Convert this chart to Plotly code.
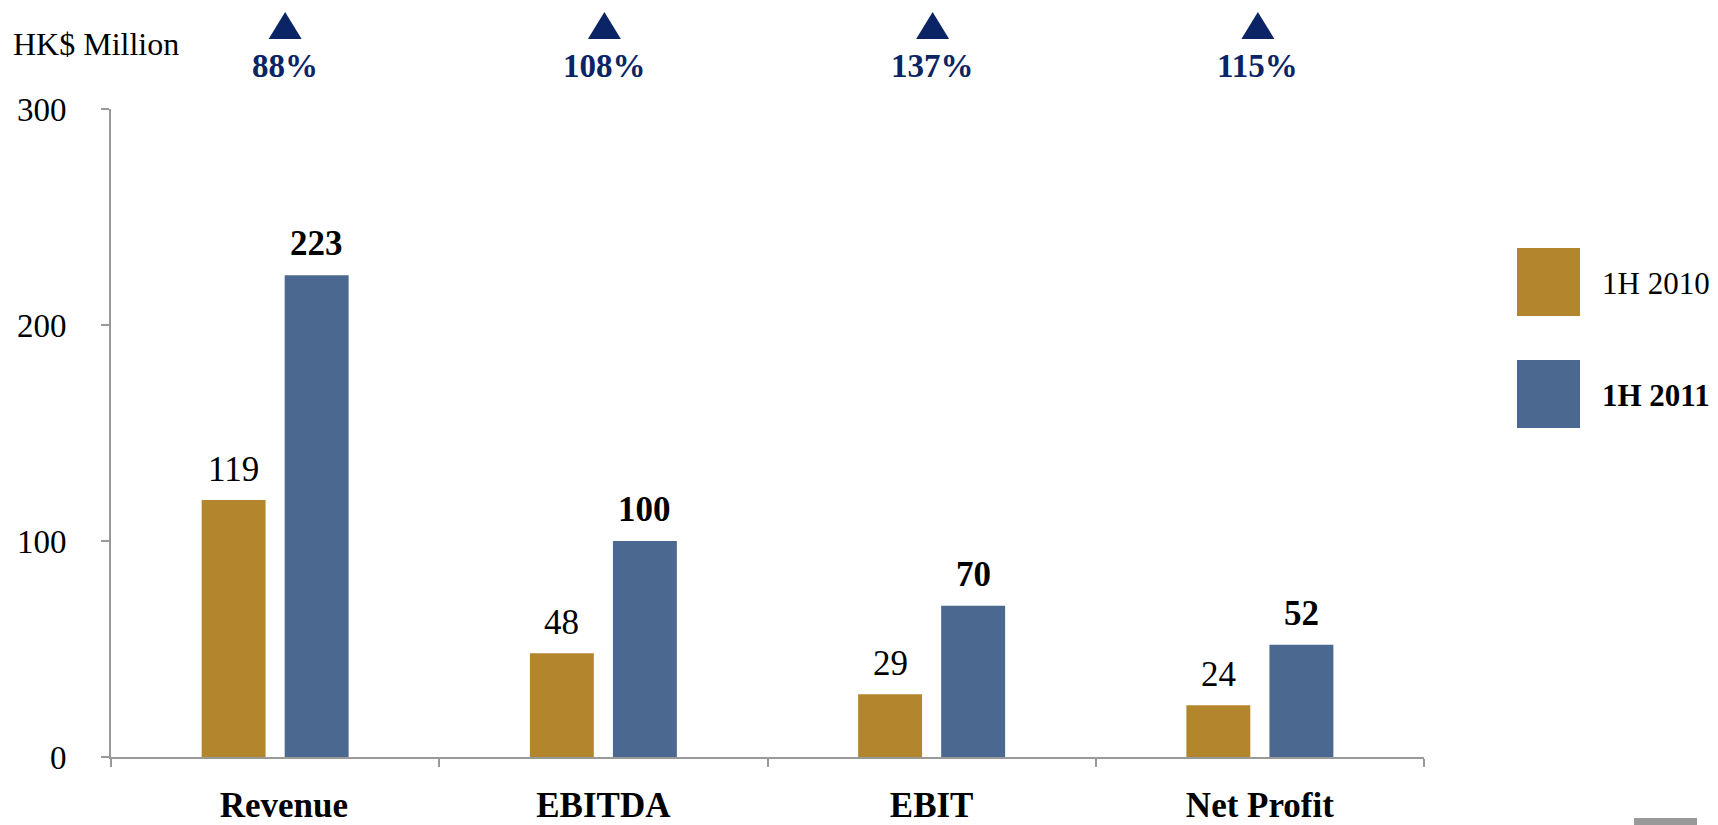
import plotly.graph_objects as go

categories = ["Revenue", "EBITDA", "EBIT", "Net Profit"]
values_2010 = [119, 48, 29, 24]
values_2011 = [223, 100, 70, 52]
growth = ["88%", "108%", "137%", "115%"]
series_names = ["1H 2010", "1H 2011"]
y_ticks = [0, 100, 200, 300]

# small horizontal nudges (pixels) of the growth markers, as placed in the original slide
growth_nudge = [10, 1, 1, -2]
# leading padding of the category labels (the first label sits slightly right in the original)
label_pad = ["&nbsp;&nbsp;", "", "", ""]

GOLD = "#B3862E"
BLUE = "#4A6890"
NAVY = "#0B2466"
FONT = "Liberation Serif"
FS = 33

# target pixel geometry of the plot area (as seen in the photographed page)
PL, PR, PT, PB = 111, 1424, 109, 757
pw, ph = PR - PL, PB - PT
PAGE_OFF = 8  # browser body margin


def px(x):
    return (x - PL) / pw


def py(y):
    return (PB - y) / ph


fig = go.Figure()
fig.add_trace(go.Bar(x=categories, y=values_2010, name=series_names[0],
                     marker=dict(color=GOLD, line=dict(width=0))))
fig.add_trace(go.Bar(x=categories, y=values_2011, name=series_names[1],
                     marker=dict(color=BLUE, line=dict(width=0))))

for c, v in zip(categories, values_2010):
    fig.add_annotation(x=c, y=v, xref="x", yref="y", text=str(v), showarrow=False,
                       xshift=-41.5, yanchor="bottom", yshift=9,
                       font=dict(family=FONT, size=35, color="black"))
for c, v in zip(categories, values_2011):
    fig.add_annotation(x=c, y=v, xref="x", yref="y", text="<b>%d</b>" % v, showarrow=False,
                       xshift=41.5, yanchor="bottom", yshift=10,
                       font=dict(family=FONT, size=35, color="black"))

shapes = []
for c, g, n in zip(categories, growth, growth_nudge):
    fig.add_annotation(x=c, y=py(66), xref="x", yref="paper", text="<b>%s</b>" % g,
                       showarrow=False, yanchor="middle", xshift=n,
                       font=dict(family=FONT, size=33, color=NAVY))
    # up-pointing triangle, sized in pixels, anchored on the category
    shapes.append(dict(type="path", xref="x", xsizemode="pixel", xanchor=c,
                       yref="paper", ysizemode="pixel", yanchor=py(25.5),
                       path="M %g -13.5 L %g -13.5 L %g 13.5 Z" % (n - 16.5, n + 16.5, n),
                       fillcolor=NAVY, line=dict(width=0)))

fig.add_annotation(x=px(11), y=py(44), xref="paper", yref="paper", text="HK$ Million",
                   showarrow=False, xanchor="left", yanchor="middle",
                   font=dict(family=FONT, size=32, color="black"))
fig.add_annotation(x=px(1600), y=py(283), xref="paper", yref="paper", text=series_names[0],
                   showarrow=False, xanchor="left", yanchor="middle",
                   font=dict(family=FONT, size=31, color="black"))
fig.add_annotation(x=px(1600), y=py(395), xref="paper", yref="paper",
                   text="<b>%s</b>" % series_names[1],
                   showarrow=False, xanchor="left", yanchor="middle",
                   font=dict(family=FONT, size=31, color="black"))

shapes += [
    dict(type="rect", xref="paper", yref="paper", x0=px(1517), x1=px(1580), y0=py(316), y1=py(248),
         fillcolor=GOLD, line=dict(width=0)),
    dict(type="rect", xref="paper", yref="paper", x0=px(1517), x1=px(1580), y0=py(428), y1=py(360),
         fillcolor=BLUE, line=dict(width=0)),
    dict(type="rect", xref="paper", yref="paper", x0=px(1634), x1=px(1697), y0=py(830), y1=py(818),
         fillcolor="#999999", line=dict(width=0)),
]

W, H = 1718, 825
fig.update_layout(
    width=W, height=H,
    margin=dict(l=PL - PAGE_OFF, r=W + PAGE_OFF - PR, t=PT - PAGE_OFF, b=H + PAGE_OFF - PB, pad=0),
    paper_bgcolor="white", plot_bgcolor="white",
    barmode="group", bargap=0.494, bargroupgap=0.23,
    showlegend=False,
    shapes=shapes,
    font=dict(family=FONT, size=FS, color="black"),
    xaxis=dict(showgrid=False, showline=True, linecolor="#999999", linewidth=2,
               ticks="outside", tickson="boundaries", ticklen=8, tickcolor="#999999", tickwidth=2,
               tickfont=dict(family=FONT, size=35, color="black"), automargin=False,
               ticklabelstandoff=16, zeroline=False,
               tickvals=categories,
               ticktext=["%s<b>%s</b>" % (p, c) for p, c in zip(label_pad, categories)]),
    yaxis=dict(range=[0, 300], tickvals=y_ticks, showgrid=False, showline=True,
               linecolor="#999999", linewidth=2, ticks="outside", ticklen=8,
               tickcolor="#999999", tickwidth=2, zeroline=False, automargin=False,
               tickfont=dict(family=FONT, size=33, color="black"),
               ticklabelstandoff=28),
)

fig.write_html("out.html")
